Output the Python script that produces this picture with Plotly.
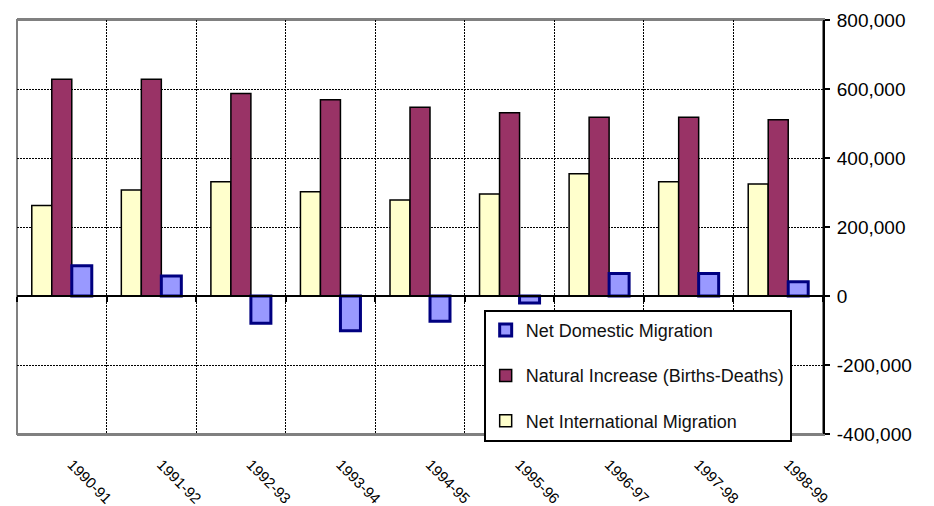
import plotly.graph_objects as go

categories = ["1990-91", "1991-92", "1992-93", "1993-94", "1994-95",
              "1995-96", "1996-97", "1997-98", "1998-99"]
net_international = [262000, 307000, 331000, 302000, 278000, 296000, 354000, 331000, 325000]
natural_increase = [628000, 628000, 587000, 569000, 547000, 531000, 518000, 518000, 511000]
net_domestic = [88000, 58000, -79000, -101000, -73000, -20000, 65000, 65000, 41000]

y_tick_values = [-400000, -200000, 0, 200000, 400000, 600000, 800000]
y_tick_labels = ["-400,000", "-200,000", "0", "200,000", "400,000", "600,000", "800,000"]

FONT = "Liberation Sans, Arial, sans-serif"

fig = go.Figure()
fig.add_trace(go.Bar(
    x=categories, y=net_international, name="Net International Migration",
    legendgroup="c", legendrank=3,
    marker=dict(color="#FFFFCC", line=dict(color="black", width=1.5)),
))
fig.add_trace(go.Bar(
    x=categories, y=natural_increase, name="Natural Increase (Births-Deaths)",
    legendgroup="b", legendrank=2,
    marker=dict(color="#993366", line=dict(color="black", width=1.5)),
))
fig.add_trace(go.Bar(
    x=categories, y=net_domestic, name="Net Domestic Migration",
    legendgroup="a", legendrank=1,
    marker=dict(color="#9999FF", line=dict(color="#000080", width=3)),
))
# helper (invisible) trace so the zero-crossing category axis is drawn
fig.add_trace(go.Scatter(
    x=categories, y=[0] * len(categories), xaxis="x2", yaxis="y",
    mode="none", showlegend=False, hoverinfo="skip",
))

# page body has an 8px default margin, so the figure is sized to fit the window
fig.update_layout(
    width=926, height=498,
    margin=dict(l=9, r=111, t=12, b=72, autoexpand=False),
    paper_bgcolor="white", plot_bgcolor="white",
    font=dict(family=FONT, size=18, color="black"),
    barmode="group", bargap=0.33, bargroupgap=0,
    showlegend=True,
    legend=dict(
        x=0.579, y=0.30, xanchor="left", yanchor="top",
        bgcolor="white", bordercolor="black", borderwidth=2,
        traceorder="grouped", tracegroupgap=19,
        font=dict(family=FONT, size=18, color="#111111"),
        itemwidth=30,
    ),
    xaxis=dict(
        type="category", range=[-0.5, 8.5], automargin=False,
        showline=True, linecolor="#808080", linewidth=2, mirror=True,
        ticks="", tickson="boundaries",
        showgrid=True, gridcolor="black", gridwidth=1, griddash="2px,1px",
        tickangle=45, tickfont=dict(family=FONT, size=15, color="black"),
        ticklabelstandoff=14, ticklabelshift=10,
    ),
    xaxis2=dict(
        type="category", range=[-0.5, 8.5], overlaying="x",
        anchor="free", position=1/3, side="bottom",
        showline=True, linecolor="black", linewidth=2,
        ticks="outside", ticklen=5, tickwidth=1.5, tickcolor="black",
        tickson="boundaries", showticklabels=False, showgrid=False,
    ),
    yaxis=dict(
        range=[-400000, 800000], side="right", automargin=False,
        tickvals=y_tick_values, ticktext=y_tick_labels,
        showline=True, linecolor="black", linewidth=2,
        ticks="outside", ticklen=5, tickwidth=2, tickcolor="black",
        showgrid=True, gridcolor="black", gridwidth=1, griddash="2px,1px",
        zeroline=False, ticklabelstandoff=3,
        tickfont=dict(family=FONT, size=19, color="black"),
    ),
    shapes=[dict(type="rect", xref="paper", yref="paper", x0=0, x1=1, y0=0, y1=1,
                 line=dict(color="#808080", width=2), layer="below")],
)

fig.write_html("out.html")
